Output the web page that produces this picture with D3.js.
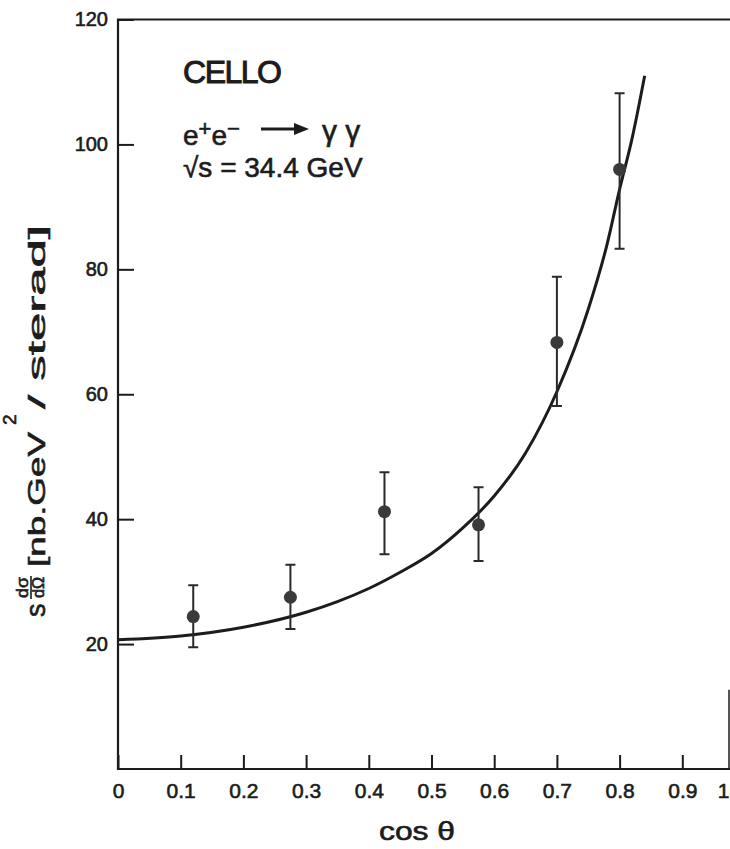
<!DOCTYPE html>
<html>
<head>
<meta charset="utf-8">
<script src="https://cdn.jsdelivr.net/npm/d3@7"></script>
<style>
	body { margin: 0; background: #fff; }
	svg { display: block; }
	text { font-family: "Liberation Sans", Arial, sans-serif; fill: #1c1c1c; stroke: #1c1c1c; stroke-width: 0.6px; }
</style>
</head>
<body>
<div id="chart"></div>
<script>
// measured points (CELLO, e+e- -> gamma gamma)
var cosTheta = [0.12, 0.275, 0.425, 0.575, 0.70, 0.80];
var sigma = [24.4, 27.5, 41.2, 39.1, 68.3, 96.0];
var errLow = [19.5, 22.4, 34.4, 33.3, 58.1, 83.3];
var errHigh = [29.4, 32.7, 47.5, 45.1, 78.8, 108.2];

// QED curve
var curveX = [0, 0.1, 0.2, 0.3, 0.35, 0.4, 0.45, 0.5, 0.55, 0.6, 0.65, 0.7, 0.75, 0.78, 0.8, 0.82, 0.84];
var curveY = [20.7, 21.3, 22.7, 25.1, 26.8, 28.9, 31.5, 34.5, 38.6, 43.7, 50.6, 60.4, 73.6, 84, 92.8, 101, 111];

var xTicks = [0, 0.1, 0.2, 0.3, 0.4, 0.5, 0.6, 0.7, 0.8, 0.9, 1];
var yTicks = [20, 40, 60, 80, 100, 120];

var width = 730,
	height = 849;

var svg = d3.select("#chart")
	.append("svg")
	.attr("width", width)
	.attr("height", height);

var x = d3.scaleLinear().domain([0, 1]).range([118, 745]);
var y = d3.scaleLinear().domain([0, 120]).range([769, 19.5]);

var ink = "#1c1c1c";

// x axis, ticks pointing into the frame
var gx = svg.append("g")
	.attr("transform", "translate(0," + y(0) + ")")
	.call(d3.axisBottom(x).tickValues(xTicks).tickSize(-14).tickPadding(14)
		.tickFormat(function (d) { return d === 0 || d === 1 ? d : d3.format(".1f")(d); }));
gx.select(".domain").remove();
gx.selectAll("line").attr("stroke", ink).attr("stroke-width", 2);
gx.selectAll("text").attr("font-size", 21).style("fill", ink);
// the "1" sits at the cut edge of the page
gx.selectAll(".tick").filter(function (d) { return d === 1; })
	.select("text").attr("x", 723 - x(1));

var gy = svg.append("g")
	.attr("transform", "translate(" + x(0) + ",0)")
	.call(d3.axisLeft(y).tickValues(yTicks).tickSize(-16).tickPadding(10));
gy.select(".domain").remove();
gy.selectAll("line").attr("stroke", ink).attr("stroke-width", 2);
gy.selectAll("text").attr("font-size", 20).style("fill", ink);

// frame
svg.append("path")
	.attr("d", "M" + x(1) + "," + y(120) + "H" + x(0) + "V" + y(0) + "H" + x(1))
	.attr("fill", "none")
	.attr("stroke", ink)
	.attr("stroke-width", 2.2);
svg.append("line")
	.attr("x1", 729).attr("x2", 729)
	.attr("y1", y(12.7)).attr("y2", y(0))
	.attr("stroke", ink).attr("stroke-width", 1.5);

// curve
var curveData = curveX.map(function (d, i) { return [d, curveY[i]]; });
var line = d3.line()
	.x(function (d) { return x(d[0]); })
	.y(function (d) { return y(d[1]); })
	.curve(d3.curveMonotoneX);
svg.append("path")
	.datum(curveData)
	.attr("d", line)
	.attr("fill", "none")
	.attr("stroke", ink)
	.attr("stroke-width", 3);

// error bars
var points = cosTheta.map(function (d, i) {
	return { x: d, y: sigma[i], lo: errLow[i], hi: errHigh[i] };
});
var bars = svg.append("g").attr("stroke", "#2a2a2a").attr("stroke-width", 2);
bars.selectAll(".bar")
	.data(points)
	.enter()
	.append("path")
	.attr("d", function (d) {
		var cx = x(d.x);
		return "M" + cx + "," + y(d.lo) + "V" + y(d.hi) +
			"M" + (cx - 5) + "," + y(d.hi) + "H" + (cx + 5) +
			"M" + (cx - 5) + "," + y(d.lo) + "H" + (cx + 5);
	});

svg.selectAll(".dot")
	.data(points)
	.enter()
	.append("circle")
	.attr("cx", function (d) { return x(d.x); })
	.attr("cy", function (d) { return y(d.y); })
	.attr("r", 6.5)
	.attr("fill", "#3a3a3a");

// labels inside the frame
svg.append("text")
	.attr("x", 183).attr("y", 83)
	.attr("font-size", 32)
	.style("stroke-width", "1px")
	.attr("textLength", 99)
	.text("CELLO");

var reac = svg.append("text")
	.attr("x", 183).attr("y", 145)
	.attr("font-size", 28);
reac.append("tspan").text("e");
reac.append("tspan").attr("dy", -9).attr("font-size", 22).text("+");
reac.append("tspan").attr("dy", 9).text("e");
reac.append("tspan").attr("dy", -9).attr("font-size", 22).text("\u2212");

svg.append("line")
	.attr("x1", 261).attr("x2", 298)
	.attr("y1", 129).attr("y2", 129)
	.attr("stroke", ink).attr("stroke-width", 3);
svg.append("path")
	.attr("d", "M294,123L309,129L294,135Z")
	.attr("fill", ink);

svg.append("text")
	.attr("x", 322).attr("y", 141)
	.attr("font-size", 30)
	.text("\u03b3 \u03b3");

svg.append("text")
	.attr("x", 183).attr("y", 177)
	.attr("font-size", 28)
	.text("\u221As = 34.4 GeV");

// x title
svg.append("text")
	.attr("x", 379).attr("y", 840)
	.attr("font-size", 26)
	.attr("textLength", 76)
	.attr("lengthAdjust", "spacingAndGlyphs")
	.text("cos \u03b8");

// y title, rotated
var yl = svg.append("g").attr("transform", "translate(45,617) rotate(-90)");
yl.append("text").attr("x", 0).attr("y", 0).attr("font-size", 27).text("s");
yl.append("text").attr("x", 19).attr("y", -17).attr("font-size", 17)
	.attr("textLength", 21).attr("lengthAdjust", "spacingAndGlyphs").text("d\u03c3");
yl.append("line").attr("x1", 18).attr("x2", 41).attr("y1", -14).attr("y2", -14)
	.attr("stroke", ink).attr("stroke-width", 1.6);
yl.append("text").attr("x", 19).attr("y", -1).attr("font-size", 17)
	.attr("textLength", 21).attr("lengthAdjust", "spacingAndGlyphs").text("d\u03a9");
yl.append("text").attr("x", 50).attr("y", 0).attr("font-size", 24)
	.attr("textLength", 135).attr("lengthAdjust", "spacingAndGlyphs").text("[nb.GeV");
yl.append("text").attr("x", 192).attr("y", -29).attr("font-size", 19).text("2");
yl.append("text").attr("x", 208).attr("y", 0).attr("font-size", 24)
	.attr("textLength", 184).attr("lengthAdjust", "spacingAndGlyphs").text("/ sterad]");
</script>
</body>
</html>
